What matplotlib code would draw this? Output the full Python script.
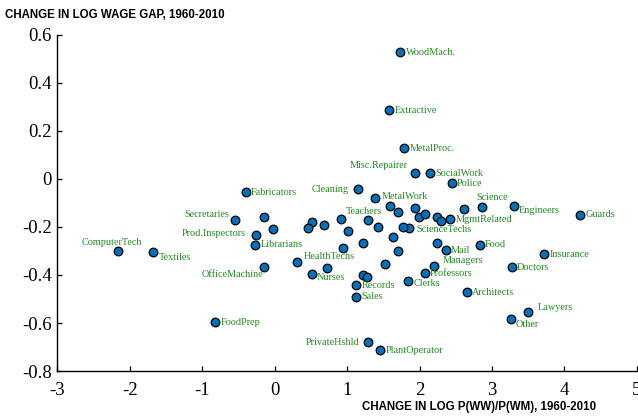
import numpy as np
import matplotlib
matplotlib.use('Agg')
import matplotlib.pyplot as plt

# occupations (blank name = unlabelled point)
names = ['WoodMach.', 'Extractive', 'MetalProc.', 'Misc.Repairer', 'SocialWork',
         'Police', 'Cleaning', 'MetalWork', 'Fabricators', 'Secretaries',
         'Prod.Inspectors', 'Librarians', 'ComputerTech', 'Textiles', 'OfficeMachine',
         'HealthTechs', 'Nurses', 'Records', 'Sales', 'FoodPrep',
         'PrivateHshld', 'PlantOperator', 'Clerks', 'Professors', 'Managers',
         'Mail', 'Food', 'Insurance', 'Doctors', 'Architects',
         'Lawyers', 'Other', 'Guards', 'Engineers', 'Science',
         'MgmtRelated', 'ScienceTechs', 'Teachers',
         '', '', '', '', '', '', '', '', '', '', '', '', '',
         '', '', '', '', '', '', '', '', '', '', '', '', '']
# change in log P(WW)/P(WM), 1960-2010
dx_share = [1.736, 1.579, 1.786, 1.938, 2.141,
            2.445, 1.153, 1.385, -0.401, -0.552,
            -0.262, -0.272, -2.168, -1.675, -0.152,
            0.308, 0.518, 1.128, 1.128, -0.825,
            1.289, 1.460, 1.844, 2.072, 2.200,
            2.362, 2.831, 3.720, 3.273, 2.652,
            3.504, 3.260, 4.213, 3.301, 2.859,
            2.421, 1.855, 1.289,
            -0.152, -0.023, 0.521, 0.456, 0.681, 0.916, 1.019, 1.427, 1.593,
            1.703, 1.938, 1.993, 2.072, 2.244, 2.300, 2.615, 1.772, 1.627,
            1.220, 0.939, 1.703, 2.244, 0.725, 1.519, 1.222, 1.271]
# change in log wage gap, 1960-2010
dy_gap = [0.528, 0.286, 0.128, 0.026, 0.024,
          -0.017, -0.042, -0.080, -0.055, -0.172,
          -0.235, -0.275, -0.300, -0.304, -0.365,
          -0.347, -0.395, -0.442, -0.490, -0.597,
          -0.680, -0.714, -0.425, -0.393, -0.361,
          -0.296, -0.275, -0.314, -0.367, -0.472,
          -0.553, -0.582, -0.149, -0.111, -0.117,
          -0.167, -0.205, -0.171,
          -0.160, -0.210, -0.178, -0.205, -0.192, -0.168, -0.215, -0.200, -0.113,
          -0.137, -0.120, -0.157, -0.146, -0.160, -0.173, -0.126, -0.201, -0.243,
          -0.268, -0.289, -0.299, -0.265, -0.372, -0.355, -0.402, -0.408]

xticks = [-3, -2, -1, 0, 1, 2, 3, 4, 5]
xticklabels = ['-3', '-2', '-1', '0', '1', '2', '3', '4', '5']
yticks = [0.6, 0.4, 0.2, 0, -0.2, -0.4, -0.6, -0.8]
yticklabels = ['0.6', '0.4', '0.2', '0', '-0.2', '-0.4', '-0.6', '-0.8']

# label placement, pixels from the dot: (right, up, alignment)
label_pos = {
    'WoodMach.': (6, 0, 'left'), 'Extractive': (6, 0, 'left'),
    'MetalProc.': (5.5, 0, 'left'), 'Misc.Repairer': (-7, 7, 'right'),
    'SocialWork': (5.5, 0, 'left'), 'Police': (5, 0, 'left'),
    'Cleaning': (-9.5, 0, 'right'), 'MetalWork': (6.5, 2, 'left'),
    'Fabricators': (5.5, 0, 'left'), 'Secretaries': (-5, 6, 'right'),
    'Prod.Inspectors': (-10, 1.5, 'right'), 'Librarians': (6, 0, 'left'),
    'ComputerTech': (-6, 8, 'center'), 'Textiles': (5.5, -5.5, 'left'),
    'OfficeMachine': (0, -7.5, 'right'), 'HealthTechs': (6.5, 5.5, 'left'),
    'Nurses': (5, -3.5, 'left'), 'Records': (5, 0, 'left'),
    'Sales': (5, 0, 'left'), 'FoodPrep': (5.5, 0, 'left'),
    'PrivateHshld': (-9, 0, 'right'), 'PlantOperator': (5, 0, 'left'),
    'Clerks': (5.5, -3, 'left'), 'Professors': (5.5, 0, 'left'),
    'Managers': (8.5, 5.5, 'left'), 'Mail': (5.5, 0, 'left'),
    'Food': (5.5, 0, 'left'), 'Insurance': (5.5, 0, 'left'),
    'Doctors': (5.5, 0, 'left'), 'Architects': (5.5, 0, 'left'),
    'Lawyers': (9, 4.5, 'left'), 'Other': (4.5, -5.5, 'left'),
    'Guards': (5.5, 0, 'left'), 'Engineers': (5.5, -5, 'left'),
    'Science': (10, 9.5, 'center'), 'MgmtRelated': (5.5, 0, 'left'),
    'ScienceTechs': (7.5, -1.5, 'left'), 'Teachers': (-4, 8.5, 'center'),
}

serif = 'Liberation Serif'
sans = 'Liberation Sans'
green = '#228B22'

fig = plt.figure(figsize=(6.38, 4.17), dpi=100)
ax = fig.add_axes([0.0901, 0.1103, 0.9079, 0.8058])

ax.plot(dx_share, dy_gap, 'o', ms=6.2, mfc='#0072BD', mec='black', mew=0.9,
        linestyle='none', clip_on=False, zorder=3)

for name, x, y in zip(names, dx_share, dy_gap):
    if not name:
        continue
    ox, oy, ha = label_pos[name]
    ax.annotate(name, (x, y), xytext=(ox, oy), textcoords='offset pixels',
                ha=ha, va='center', color=green, fontsize=7.4, family=serif)

ax.set_xlim(-3, 5)
ax.set_ylim(-0.8, 0.6)
ax.set_xticks(xticks)
ax.set_xticklabels(xticklabels)
ax.set_yticks(yticks)
ax.set_yticklabels(yticklabels)
for lab in ax.get_xticklabels() + ax.get_yticklabels():
    lab.set_family(serif)
    lab.set_fontsize(13.5)
ax.tick_params(axis='both', direction='in', length=3.6, width=0.9, color='black')
ax.tick_params(axis='x', pad=8)
ax.tick_params(axis='y', pad=4)
ax.spines['top'].set_visible(False)
ax.spines['right'].set_visible(False)
ax.spines['left'].set_linewidth(1.0)
ax.spines['bottom'].set_linewidth(1.0)

fig.text(5 / 638, 1 - 15 / 417, 'CHANGE IN LOG WAGE GAP, 1960-2010',
         ha='left', va='center', fontsize=8.3, fontweight='bold', family=sans)
fig.text(596 / 638, 1 - 407 / 417, 'CHANGE IN LOG P(WW)/P(WM), 1960-2010',
         ha='right', va='center', fontsize=8.3, fontweight='bold', family=sans)

fig.savefig('out.png', dpi=100)
